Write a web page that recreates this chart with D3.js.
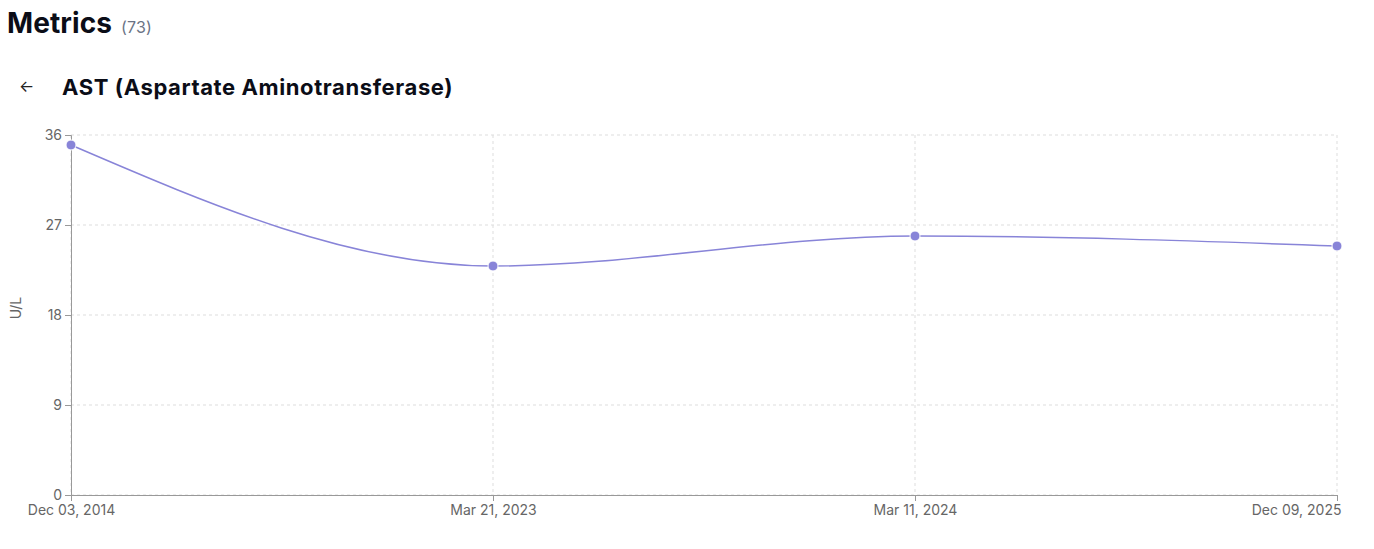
<!DOCTYPE html>
<html>
<head>
<meta charset="utf-8">
<script src="https://cdn.jsdelivr.net/npm/d3@7"></script>
<style>
  body { margin: 0; background: #fff; font-family: Inter, "Noto Sans", sans-serif; }
  .title { position: absolute; left: 7px; top: 6px; font-size: 28px; font-weight: 700; color: #0b0d17; letter-spacing: 0.1px; }
  .title span { font-size: 16px; font-weight: 400; color: #6b7385; margin-left: 9px; }
  .sub { position: absolute; left: 62px; top: 74px; font-size: 22px; font-weight: 700; color: #0b0d17; letter-spacing: 0.6px; }
  .back { position: absolute; left: 19px; top: 76px; font-size: 16px; color: #222; }
  svg { position: absolute; left: 0; top: 0; }
</style>
</head>
<body>
<div class="title">Metrics<span>(73)</span></div>
<div class="back">←</div>
<div class="sub">AST (Aspartate Aminotransferase)</div>
<svg id="chart" width="1374" height="549"></svg>
<script>
const dates = ['Dec 03, 2014', 'Mar 21, 2023', 'Mar 11, 2024', 'Dec 09, 2025'];
const values = [35, 22.9, 25.9, 24.9];
const yTicks = [0, 9, 18, 27, 36];
const unit = 'U/L';

const margin = { left: 71, right: 1337, top: 135, bottom: 495 };
const svg = d3.select('#chart');
const x = d3.scalePoint().domain(dates).range([margin.left, margin.right]);
const y = d3.scaleLinear().domain([0, 36]).range([margin.bottom, margin.top]);

const grid = svg.append('g').attr('stroke', '#ddd').attr('stroke-dasharray', '3 3');
grid.selectAll('.h').data(yTicks).join('line')
  .attr('x1', margin.left).attr('x2', margin.right)
  .attr('y1', d => y(d)).attr('y2', d => y(d));
grid.selectAll('.v').data(dates).join('line')
  .attr('x1', d => x(d)).attr('x2', d => x(d))
  .attr('y1', margin.top).attr('y2', margin.bottom);

const xAxis = svg.append('g').attr('transform', `translate(0,${margin.bottom})`)
  .call(d3.axisBottom(x).tickSize(6).tickPadding(4));
const yAxis = svg.append('g').attr('transform', `translate(${margin.left},0)`)
  .call(d3.axisLeft(y).tickValues(yTicks).tickSize(6).tickPadding(3));
[xAxis, yAxis].forEach(a => {
  a.selectAll('path, line').attr('stroke', '#999');
  a.selectAll('text').attr('fill', '#666').style('font-size', '14px').style('font-family', 'Inter, sans-serif');
});
// keep the last date label inside the picture
xAxis.selectAll('.tick').filter(d => d === dates[dates.length - 1])
  .select('text').attr('text-anchor', 'end').attr('dx', 4);

svg.append('text').attr('transform', 'translate(21,308) rotate(-90)')
  .attr('text-anchor', 'middle').attr('fill', '#666').style('font-size', '14px').text(unit);

const pts = dates.map((d, i) => [x(d), y(values[i])]);
svg.append('path').attr('d', d3.line().curve(d3.curveMonotoneX)(pts))
  .attr('fill', 'none').attr('stroke', '#8884d8').attr('stroke-width', 1.5);
svg.selectAll('circle.p').data(pts).join('circle')
  .attr('cx', d => d[0]).attr('cy', d => d[1]).attr('r', 5)
  .attr('fill', '#8884d8').attr('stroke', '#fff').attr('stroke-width', 1);
</script>
</body>
</html>
